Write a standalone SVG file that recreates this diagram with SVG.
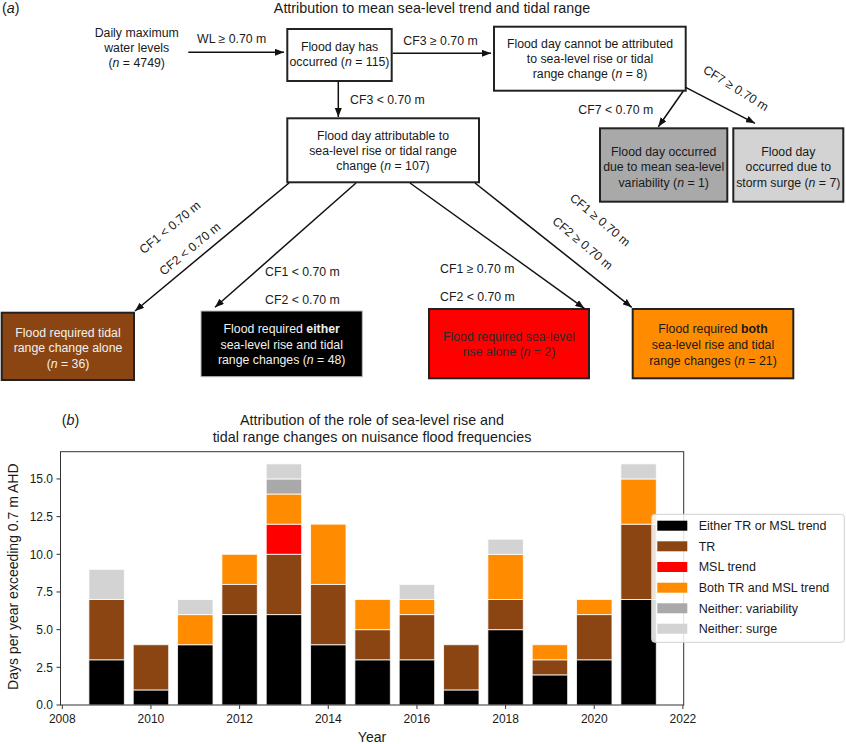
<svg xmlns="http://www.w3.org/2000/svg" width="846" height="744" viewBox="0 0 846 744">
<style>
text{font-family:"Liberation Sans",Arial,sans-serif;fill:#1a1a1a;font-size:12.3px}
.c{text-anchor:middle}
.e{text-anchor:end}
.w{fill:#f0f0f0}
.dk{fill:#2a2a2a}
.box{stroke:#222;stroke-width:2}
.arr{stroke:#111;stroke-width:1.5;fill:none;marker-end:url(#ah)}
.bar{stroke:#fff;stroke-width:0.8;vector-effect:non-scaling-stroke}
.k{fill:#000}.tr{fill:#8B4513}.ms{fill:#FF0000}.bo{fill:#FF8C00}.va{fill:#A9A9A9}.su{fill:#D3D3D3}
.tick{stroke:#333;stroke-width:1}
.t14{font-size:14.3px}
.al{font-size:14px}
.ax{font-size:12px}
.lg{font-size:12.5px}
</style>
<defs>
<marker id="ah" markerUnits="userSpaceOnUse" markerWidth="9" markerHeight="7" refX="9" refY="3.5" orient="auto">
<path d="M0,0 L9,3.5 L0,7 z" fill="#111"/>
</marker>
</defs>
<rect width="846" height="744" fill="#fff"/>

<text x="2" y="13" class="t14">(<tspan font-style="italic">a</tspan>)</text>
<text x="432" y="13" class="c t14">Attribution to mean sea-level trend and tidal range</text>

<g id="node-daily">
<text class="c" x="136.7" y="36.5">Daily maximum</text>
<text class="c" x="136.7" y="52">water levels</text>
<text class="c" x="136.7" y="67">(<tspan font-style="italic">n</tspan> = 4749)</text>
</g>
<g id="node-occurred">
<rect class="box" x="287.3" y="29" width="104.4" height="52" fill="#fff"/>
<text class="c" x="339.5" y="51">Flood day has</text>
<text class="c" x="339.5" y="66">occurred (<tspan font-style="italic">n</tspan> = 115)</text>
</g>
<g id="node-cannot">
<rect class="box" x="494" y="26.7" width="191.7" height="64" fill="#fff"/>
<text class="c" x="590" y="48.3">Flood day cannot be attributed</text>
<text class="c" x="590" y="63.3">to sea-level rise or tidal</text>
<text class="c" x="590" y="78.3">range change (<tspan font-style="italic">n</tspan> = 8)</text>
</g>
<g id="node-attributable">
<rect class="box" x="287.3" y="118.3" width="191.7" height="64" fill="#fff"/>
<text class="c" x="383" y="140">Flood day attributable to</text>
<text class="c" x="383" y="155.3">sea-level rise or tidal range</text>
<text class="c" x="383" y="170.3">change (<tspan font-style="italic">n</tspan> = 107)</text>
</g>
<g id="node-variability">
<rect class="box" x="600" y="128.3" width="127.3" height="73.4" fill="#A9A9A9"/>
<text class="c" x="663.7" y="156">Flood day occurred</text>
<text class="c" x="663.7" y="171">due to mean sea-level</text>
<text class="c" x="663.7" y="186.5">variability (<tspan font-style="italic">n</tspan> = 1)</text>
</g>
<g id="node-surge">
<rect class="box" x="733.3" y="128.3" width="110" height="73.4" fill="#D3D3D3"/>
<text class="c" x="788.3" y="156">Flood day</text>
<text class="c" x="788.3" y="171">occurred due to</text>
<text class="c" x="788.3" y="186.5">storm surge (<tspan font-style="italic">n</tspan> = 7)</text>
</g>
<g id="node-tidal">
<rect class="box" x="1.7" y="312.7" width="132.3" height="67.3" fill="#8B4513" stroke-width="1.5"/>
<text class="c w" x="68" y="336.5">Flood required tidal</text>
<text class="c w" x="68" y="352">range change alone</text>
<text class="c w" x="68" y="367.5">(<tspan font-style="italic">n</tspan> = 36)</text>
</g>
<g id="node-either">
<rect x="201" y="311" width="161.3" height="65.7" fill="#000" stroke="#bbb" stroke-width="1"/>
<text class="c w" x="281.7" y="333">Flood required <tspan font-weight="bold">either</tspan></text>
<text class="c w" x="281.7" y="348.5">sea-level rise and tidal</text>
<text class="c w" x="281.7" y="364">range changes (<tspan font-style="italic">n</tspan> = 48)</text>
</g>
<g id="node-sealevel">
<rect class="box" x="429" y="309" width="160" height="69.3" fill="#FF0000"/>
<text class="c dk" x="509" y="341">Flood required sea-level</text>
<text class="c dk" x="509" y="356">rise alone (<tspan font-style="italic">n</tspan> = 2)</text>
</g>
<g id="node-both">
<rect class="box" x="632.7" y="309" width="160.6" height="69.3" fill="#FF8C00"/>
<text class="c" x="713" y="333.3">Flood required <tspan font-weight="bold">both</tspan></text>
<text class="c" x="713" y="349">sea-level rise and tidal</text>
<text class="c" x="713" y="364.5">range changes (<tspan font-style="italic">n</tspan> = 21)</text>
</g>

<g id="connectors">
<line class="arr" x1="188.3" y1="52.3" x2="284" y2="52.3"/>
<line class="arr" x1="392.5" y1="53.3" x2="491" y2="53.3"/>
<line class="arr" x1="338.3" y1="81" x2="338.3" y2="117"/>
<line class="arr" x1="683.3" y1="91" x2="658.3" y2="126.7"/>
<line class="arr" x1="685.7" y1="87.3" x2="755" y2="123.3"/>
<line class="arr" x1="289" y1="183" x2="135" y2="311"/>
<line class="arr" x1="356" y1="183" x2="215" y2="307.3"/>
<line class="arr" x1="410" y1="183" x2="584.3" y2="308.3"/>
<line class="arr" x1="475" y1="183" x2="631.7" y2="307.3"/>
<text x="231.7" y="42.5" class="c">WL ≥ 0.70 m</text>
<text x="440.5" y="45" class="c">CF3 ≥ 0.70 m</text>
<text x="350" y="104.3">CF3 &lt; 0.70 m</text>
<text x="578.3" y="114.3">CF7 &lt; 0.70 m</text>
<text transform="translate(735.8,88.3) rotate(32)" x="0" y="4" class="c">CF7 ≥ 0.70 m</text>
<text transform="translate(170,227.5) rotate(-39.7)" x="0" y="4" class="c">CF1 &lt; 0.70 m</text>
<text transform="translate(190,249) rotate(-39.7)" x="0" y="4" class="c">CF2 &lt; 0.70 m</text>
<text x="265" y="276">CF1 &lt; 0.70 m</text>
<text x="265" y="303.5">CF2 &lt; 0.70 m</text>
<text x="440" y="272.5">CF1 ≥ 0.70 m</text>
<text x="440" y="301">CF2 &lt; 0.70 m</text>
<text transform="translate(600,220) rotate(40)" x="0" y="4" class="c">CF1 ≥ 0.70 m</text>
<text transform="translate(582.5,243.3) rotate(40)" x="0" y="4" class="c">CF2 ≥ 0.70 m</text>
</g>

<g id="chart">
<text x="61.7" y="425" class="t14">(<tspan font-style="italic">b</tspan>)</text>
<text x="372" y="425" class="c t14">Attribution of the role of sea-level rise and</text>
<text x="372" y="442" class="c t14">tidal range changes on nuisance flood frequencies</text>
<g transform="translate(62.3,705) scale(44.33,-15.07)">
<rect class="bar k" x="0.6" y="0" width="0.8" height="3"/><rect class="bar tr" x="0.6" y="3" width="0.8" height="4"/><rect class="bar su" x="0.6" y="7" width="0.8" height="2"/>
<rect class="bar k" x="1.6" y="0" width="0.8" height="1"/><rect class="bar tr" x="1.6" y="1" width="0.8" height="3"/>
<rect class="bar k" x="2.6" y="0" width="0.8" height="4"/><rect class="bar bo" x="2.6" y="4" width="0.8" height="2"/><rect class="bar su" x="2.6" y="6" width="0.8" height="1"/>
<rect class="bar k" x="3.6" y="0" width="0.8" height="6"/><rect class="bar tr" x="3.6" y="6" width="0.8" height="2"/><rect class="bar bo" x="3.6" y="8" width="0.8" height="2"/>
<rect class="bar k" x="4.6" y="0" width="0.8" height="6"/><rect class="bar tr" x="4.6" y="6" width="0.8" height="4"/><rect class="bar ms" x="4.6" y="10" width="0.8" height="2"/><rect class="bar bo" x="4.6" y="12" width="0.8" height="2"/><rect class="bar va" x="4.6" y="14" width="0.8" height="1"/><rect class="bar su" x="4.6" y="15" width="0.8" height="1"/>
<rect class="bar k" x="5.6" y="0" width="0.8" height="4"/><rect class="bar tr" x="5.6" y="4" width="0.8" height="4"/><rect class="bar bo" x="5.6" y="8" width="0.8" height="4"/>
<rect class="bar k" x="6.6" y="0" width="0.8" height="3"/><rect class="bar tr" x="6.6" y="3" width="0.8" height="2"/><rect class="bar bo" x="6.6" y="5" width="0.8" height="2"/>
<rect class="bar k" x="7.6" y="0" width="0.8" height="3"/><rect class="bar tr" x="7.6" y="3" width="0.8" height="3"/><rect class="bar bo" x="7.6" y="6" width="0.8" height="1"/><rect class="bar su" x="7.6" y="7" width="0.8" height="1"/>
<rect class="bar k" x="8.6" y="0" width="0.8" height="1"/><rect class="bar tr" x="8.6" y="1" width="0.8" height="3"/>
<rect class="bar k" x="9.6" y="0" width="0.8" height="5"/><rect class="bar tr" x="9.6" y="5" width="0.8" height="2"/><rect class="bar bo" x="9.6" y="7" width="0.8" height="3"/><rect class="bar su" x="9.6" y="10" width="0.8" height="1"/>
<rect class="bar k" x="10.6" y="0" width="0.8" height="2"/><rect class="bar tr" x="10.6" y="2" width="0.8" height="1"/><rect class="bar bo" x="10.6" y="3" width="0.8" height="1"/>
<rect class="bar k" x="11.6" y="0" width="0.8" height="3"/><rect class="bar tr" x="11.6" y="3" width="0.8" height="3"/><rect class="bar bo" x="11.6" y="6" width="0.8" height="1"/>
<rect class="bar k" x="12.6" y="0" width="0.8" height="7"/><rect class="bar tr" x="12.6" y="7" width="0.8" height="5"/><rect class="bar bo" x="12.6" y="12" width="0.8" height="3"/><rect class="bar su" x="12.6" y="15" width="0.8" height="1"/>
</g>
<rect x="60.5" y="451.7" width="623.2" height="253.3" fill="none" stroke="#333" stroke-width="1"/>
<g class="tick">
<line x1="62.3" y1="705" x2="62.3" y2="709"/><line x1="150.96" y1="705" x2="150.96" y2="709"/><line x1="239.62" y1="705" x2="239.62" y2="709"/><line x1="328.28" y1="705" x2="328.28" y2="709"/><line x1="416.94" y1="705" x2="416.94" y2="709"/><line x1="505.6" y1="705" x2="505.6" y2="709"/><line x1="594.26" y1="705" x2="594.26" y2="709"/><line x1="682.92" y1="705" x2="682.92" y2="709"/>
<line x1="56.5" y1="705" x2="60.5" y2="705"/><line x1="56.5" y1="667.3" x2="60.5" y2="667.3"/><line x1="56.5" y1="629.65" x2="60.5" y2="629.65"/><line x1="56.5" y1="591.98" x2="60.5" y2="591.98"/><line x1="56.5" y1="554.3" x2="60.5" y2="554.3"/><line x1="56.5" y1="516.63" x2="60.5" y2="516.63"/><line x1="56.5" y1="478.95" x2="60.5" y2="478.95"/>
</g>
<text class="c ax" x="62.3" y="722.5">2008</text><text class="c ax" x="150.96" y="722.5">2010</text><text class="c ax" x="239.62" y="722.5">2012</text><text class="c ax" x="328.28" y="722.5">2014</text><text class="c ax" x="416.94" y="722.5">2016</text><text class="c ax" x="505.6" y="722.5">2018</text><text class="c ax" x="594.26" y="722.5">2020</text><text class="c ax" x="682.92" y="722.5">2022</text>
<text class="e ax" x="53" y="709.3">0.0</text><text class="e ax" x="53" y="671.6">2.5</text><text class="e ax" x="53" y="634">5.0</text><text class="e ax" x="53" y="596.3">7.5</text><text class="e ax" x="53" y="558.6">10.0</text><text class="e ax" x="53" y="521">12.5</text><text class="e ax" x="53" y="483.3">15.0</text>
<text class="c al" x="372" y="741.5">Year</text>
<text class="c al" transform="translate(18,576.7) rotate(-90)" x="0" y="0">Days per year exceeding 0.7 m AHD</text>
<g id="legend">
<rect x="651.7" y="514.3" width="192.6" height="128" rx="3" fill="#fff" fill-opacity="0.85" stroke="#d0d0d0" stroke-width="1"/>
<rect class="k" x="657.3" y="520.7" width="30" height="10"/><text class="lg" x="698.7" y="530">Either TR or MSL trend</text>
<rect class="tr" x="657.3" y="541.3" width="30" height="10"/><text class="lg" x="698.7" y="550.6">TR</text>
<rect class="ms" x="657.3" y="562" width="30" height="10"/><text class="lg" x="698.7" y="571.3">MSL trend</text>
<rect class="bo" x="657.3" y="582.7" width="30" height="10"/><text class="lg" x="698.7" y="592">Both TR and MSL trend</text>
<rect class="va" x="657.3" y="603.3" width="30" height="10"/><text class="lg" x="698.7" y="612.6">Neither: variability</text>
<rect class="su" x="657.3" y="623.7" width="30" height="10"/><text class="lg" x="698.7" y="633">Neither: surge</text>
</g>
</g>
</svg>
